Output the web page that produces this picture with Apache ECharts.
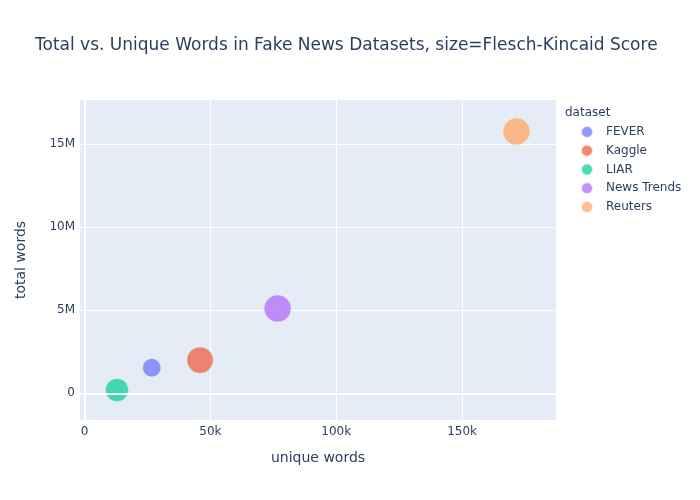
<!DOCTYPE html>
<html>
<head>
<meta charset="utf-8">
<script src="https://cdn.jsdelivr.net/npm/echarts@6/dist/echarts.min.js"></script>
<style>
    html, body { margin: 0; padding: 0; background: #fff; }
    #bubble_con { width: 700px; height: 500px; }
</style>
</head>
<body>
<div id="bubble_con"></div>
<script>
// data
const datasets = ['FEVER', 'Kaggle', 'LIAR', 'News Trends', 'Reuters'];
const uniqueWords = [26700, 45900, 12900, 76700, 171600];
const totalWords = [1540000, 2000000, 200000, 5100000, 15740000];
const fkScores = [5.5, 11.4, 8.7, 12.0, 12.0];
const xTicks = [0, 50000, 100000, 150000];
const yTicks = [0, 5000000, 10000000, 15000000];

const colors = ['#636efa', '#EF553B', '#00cc96', '#ab63fa', '#FFA15A'];
const fontFam = '"DejaVu Sans", verdana, arial, sans-serif';
const maxScore = Math.max.apply(null, fkScores);

let chart = echarts.init(document.getElementById('bubble_con'));

let series = datasets.map(function (name, i) {
    return {
        name: name,
        type: 'scatter',
        data: [[uniqueWords[i], totalWords[i], fkScores[i]]],
        symbolSize: function (val) {
            return 27 * Math.sqrt(val[2] / maxScore);
        },
        itemStyle: {
            color: colors[i],
            opacity: 0.7,
            borderColor: '#fff',
            borderWidth: 0.5
        },
        emphasis: { disabled: true }
    };
});

// thicker zero lines like plotly
series.push({
    type: 'scatter',
    data: [],
    silent: true,
    markLine: {
        silent: true,
        symbol: 'none',
        label: { show: false },
        lineStyle: { color: '#fff', width: 2, type: 'solid' },
        data: [{ xAxis: 0 }, { yAxis: 0 }]
    },
    z: 1
});

let option = {
    animation: false,
    textStyle: { fontFamily: fontFam },
    title: [
        {
            text: 'Total vs. Unique Words in Fake News Datasets, size=Flesch-Kincaid Score',
            left: 35,
            top: 37,
            padding: 0,
            textStyle: { fontSize: 17, fontWeight: 'normal', color: '#2a3f5f', fontFamily: fontFam }
        },
        {
            text: 'dataset',
            left: 565,
            top: 107,
            padding: 0,
            textStyle: { fontSize: 12, fontWeight: 'normal', color: '#2a3f5f', fontFamily: fontFam }
        }
    ],
    legend: {
        orient: 'vertical',
        left: 580,
        top: 125,
        padding: 0,
        itemWidth: 12,
        itemHeight: 12,
        itemGap: 4.75,
        icon: 'circle',
        data: datasets,
        textStyle: { fontSize: 12, color: '#2a3f5f', padding: [0, 0, 0, 8], fontFamily: fontFam },
        itemStyle: { opacity: 0.7 }
    },
    grid: {
        left: 80,
        right: 144,
        top: 100,
        bottom: 80,
        show: true,
        backgroundColor: '#E5ECF6',
        borderWidth: 0
    },
    xAxis: {
        type: 'value',
        min: -1800,
        max: 187300,
        name: 'unique words',
        nameLocation: 'middle',
        nameGap: 31,
        nameTextStyle: { fontSize: 14, color: '#2a3f5f' },
        axisLine: { show: false },
        axisTick: { show: false, customValues: xTicks },
        axisLabel: {
            customValues: xTicks,
            color: '#2a3f5f',
            fontSize: 12,
            margin: 6,
            formatter: function (v) { return v === 0 ? '0' : (v / 1000) + 'k'; }
        },
        splitLine: { show: true, lineStyle: { color: '#fff', width: 1 } }
    },
    yAxis: {
        type: 'value',
        min: -1600000,
        max: 17630000,
        name: 'total words',
        nameLocation: 'middle',
        nameGap: 52,
        nameTextStyle: { fontSize: 14, color: '#2a3f5f' },
        axisLine: { show: false },
        axisTick: { show: false, customValues: yTicks },
        axisLabel: {
            customValues: yTicks,
            color: '#2a3f5f',
            fontSize: 12,
            margin: 5,
            formatter: function (v) { return v === 0 ? '0' : (v / 1000000) + 'M'; }
        },
        splitLine: { show: true, lineStyle: { color: '#fff', width: 1 } }
    },
    series: series
};

chart.setOption(option);

window.addEventListener('resize', function () {
    chart.resize();
});
</script>
</body>
</html>
